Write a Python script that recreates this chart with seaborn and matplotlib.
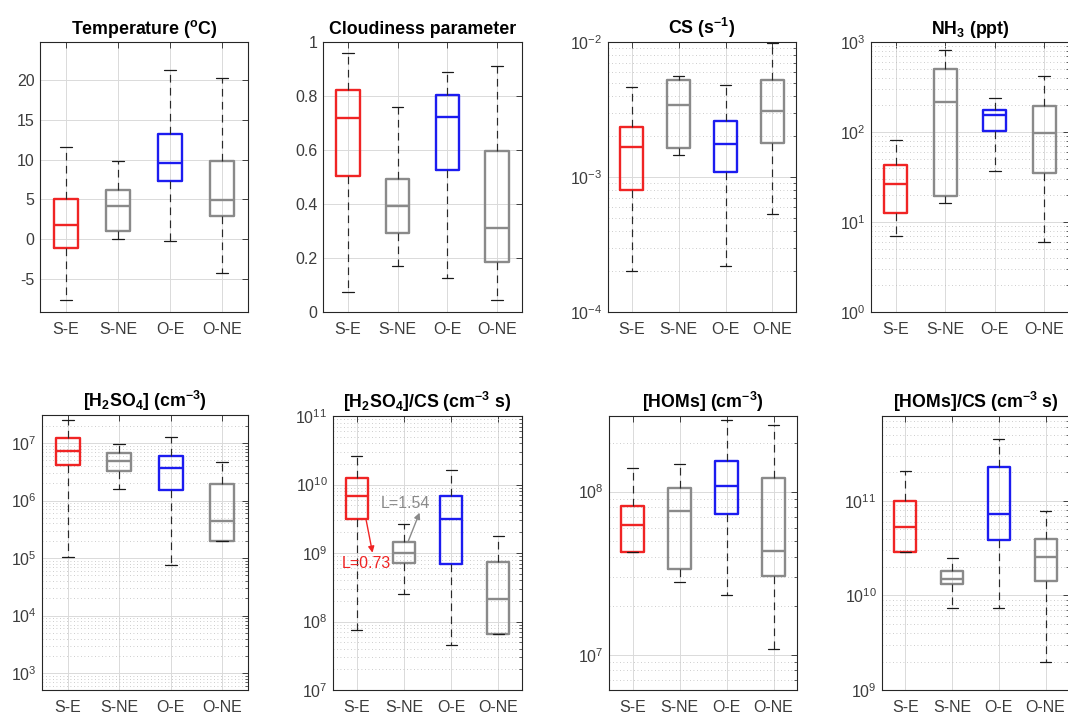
import numpy as np
import pandas as pd
import matplotlib
matplotlib.use('Agg')
import matplotlib.pyplot as plt
import matplotlib.ticker as mticker
import seaborn as sns

# ---------------- data (five-number summaries) ----------------
# each entry: [lower whisker, Q1, median, Q3, upper whisker]
sites = ['S-E', 'S-NE', 'O-E', 'O-NE']
site_colors = ['#f02424', '#8a8a8a', '#1c1cf0', '#8a8a8a']

temperature = [[-7.7, -1.15, 1.73, 5.03, 11.64],
               [0.02, 1.02, 4.2, 6.2, 9.84],
               [-0.28, 7.33, 9.6, 13.19, 21.25],
               [-4.25, 2.86, 4.9, 9.88, 20.25]]
cloudiness = [[0.074, 0.504, 0.717, 0.824, 0.959],
              [0.172, 0.293, 0.393, 0.493, 0.759],
              [0.127, 0.525, 0.722, 0.804, 0.889],
              [0.043, 0.187, 0.31, 0.597, 0.91]]
cs = [[2.02e-4, 8.0e-4, 1.67e-3, 2.33e-3, 4.63e-3],
      [1.46e-3, 1.63e-3, 3.42e-3, 5.23e-3, 5.64e-3],
      [2.19e-4, 1.08e-3, 1.75e-3, 2.58e-3, 4.81e-3],
      [5.36e-4, 1.79e-3, 3.06e-3, 5.23e-3, 9.9e-3]]
nh3 = [[7.0, 12.5, 26.4, 42.7, 80.9],
       [16.2, 19.6, 215, 498, 815],
       [37, 102, 156, 174, 238],
       [6.0, 35.2, 98.4, 196, 417]]
h2so4 = [[1.03e5, 4.1e6, 7.36e6, 1.24e7, 2.48e7],
         [1.57e6, 3.22e6, 4.87e6, 6.8e6, 9.7e6],
         [7.7e4, 1.51e6, 3.73e6, 5.95e6, 1.29e7],
         [2.01e5, 2.01e5, 4.37e5, 1.97e6, 4.6e6]]
h2so4_cs = [[7.6e7, 3.17e9, 6.8e9, 1.26e10, 2.64e10],
            [2.55e8, 7.15e8, 1.01e9, 1.46e9, 2.62e9],
            [4.49e7, 6.84e8, 3.1e9, 6.8e9, 1.61e10],
            [6.5e7, 6.5e7, 2.13e8, 7.3e8, 1.75e9]]
homs = [[4.25e7, 4.25e7, 6.25e7, 8.17e7, 1.39e8],
        [2.81e7, 3.37e7, 7.57e7, 1.06e8, 1.48e8],
        [2.32e7, 7.33e7, 1.08e8, 1.54e8, 2.74e8],
        [1.09e7, 3.03e7, 4.33e7, 1.22e8, 2.58e8]]
homs_cs = [[2.85e10, 2.85e10, 5.27e10, 1.0e11, 2.09e11],
           [7.35e9, 1.32e10, 1.51e10, 1.81e10, 2.5e10],
           [7.35e9, 3.87e10, 7.23e10, 2.29e11, 4.48e11],
           [2.0e9, 1.42e10, 2.52e10, 3.97e10, 7.84e10]]

titles = [r'Temperature ($^{\mathbf{o}}$C)',
          'Cloudiness parameter',
          r'CS (s$^{\mathbf{-1}}$)',
          r'NH$_{\mathbf{3}}$ (ppt)',
          r'[H$_{\mathbf{2}}$SO$_{\mathbf{4}}$] (cm$^{\mathbf{-3}}$)',
          r'[H$_{\mathbf{2}}$SO$_{\mathbf{4}}$]/CS (cm$^{\mathbf{-3}}$ s)',
          r'[HOMs] (cm$^{\mathbf{-3}}$)',
          r'[HOMs]/CS (cm$^{\mathbf{-3}}$ s)']

# ratio annotations in the [H2SO4]/CS panel
ann_labels = ['L=0.73', 'L=1.54']
ann_colors = ['#f02424', '#8a8a8a']
ann_text_xy = [(-0.32, 7.1e8), (0.52, 5.3e9)]
ann_arrow_from = [(0.204, 2.97e9), (1.095, 1.5e9)]
ann_arrow_to = [(0.336, 1.01e9), (1.332, 3.88e9)]

# ---------------- style ----------------
sns.set_style('white')
plt.rcParams['font.family'] = ['Liberation Sans', 'DejaVu Sans']
plt.rcParams['mathtext.fontset'] = 'custom'
plt.rcParams['mathtext.rm'] = 'Liberation Sans'
plt.rcParams['mathtext.bf'] = 'Liberation Sans:bold'
plt.rcParams['mathtext.it'] = 'Liberation Sans:italic'
plt.rcParams['mathtext.sf'] = 'Liberation Sans'
plt.rcParams['axes.unicode_minus'] = False

W, H = 1068, 715
fig = plt.figure(figsize=(W / 100, H / 100), dpi=100)

# axes boxes in pixels: left, right, top, bottom
boxes = [(40, 248, 42, 312), (323, 522, 42, 312), (608, 796, 42, 312), (871, 1069, 42, 312),
         (42, 248, 415, 690), (333, 522, 416, 690), (609, 797, 416, 690), (882, 1069, 416, 690)]

datasets = [temperature, cloudiness, cs, nh3, h2so4, h2so4_cs, homs, homs_cs]
logs = [False, False, True, True, True, True, True, True]
ylims = [(-9.15, 24.8), (0, 1), (1e-4, 1e-2), (1, 1000), (5.1e2, 3.06e7),
         (1e7, 1e11), (6.07e6, 2.91e8), (1e9, 7.9e11)]
lin_ticks = {0: [-5, 0, 5, 10, 15, 20], 1: [0, 0.2, 0.4, 0.6, 0.8, 1]}

label_color = '#3c3c3c'
axis_color = '#262626'
pal = dict(zip(sites, site_colors))
tick_fs = 11.5
title_fs = 12.8

axes = []
for i, (data, islog, yl, title, (l, r, t, b)) in enumerate(zip(datasets, logs, ylims, titles, boxes)):
    ax = fig.add_axes([l / W, 1 - b / H, (r - l) / W, (b - t) / H])
    rows = []
    for s, vals in zip(sites, data):
        for v in vals:
            rows.append({'site': s, 'value': v})
    df = pd.DataFrame(rows)
    sns.boxplot(data=df, x='site', y='value', hue='site', order=sites, hue_order=sites,
                palette=pal, saturation=1, fill=False, whis=(0, 100), width=0.47,
                linewidth=1.7, legend=False, log_scale=True if islog else None,
                showfliers=False, ax=ax,
                whiskerprops=dict(color='#2a2a2a', linestyle=(0, (6.5, 4.5)), linewidth=0.85),
                capprops=dict(color='#1a1a1a', linewidth=0.9))
    ax.set_xlim(-0.5, 3.5)
    ax.set_ylim(*yl)
    ax.set_xlabel('')
    ax.set_ylabel('')
    ax.set_axisbelow(True)
    ax.grid(True, which='major', axis='both', color='#dadada', linewidth=0.7, linestyle='-')
    if islog:
        ax.yaxis.set_major_locator(mticker.LogLocator(base=10, numticks=20))
        ax.yaxis.set_minor_locator(mticker.LogLocator(base=10, subs=np.arange(2, 10), numticks=20))
        ax.yaxis.set_minor_formatter(mticker.NullFormatter())
        ax.grid(True, which='minor', axis='y', color='#bdbdbd', linewidth=0.6, linestyle=(0, (1, 3.2)))
    else:
        ax.set_yticks(lin_ticks[i])
        ax.yaxis.set_major_formatter(mticker.FuncFormatter(lambda v, p: '%g' % v))
    ax.tick_params(which='major', direction='in', length=4, width=0.6, top=True, right=True,
                   color=axis_color, labelcolor=label_color, labelsize=tick_fs)
    ax.tick_params(axis='y', which='major', pad=4)
    ax.tick_params(axis='x', which='major', pad=7)
    ax.tick_params(which='minor', direction='in', length=2, width=0.5, top=False, right=True,
                   color=axis_color)
    for sp in ax.spines.values():
        sp.set_visible(True)
        sp.set_color(axis_color)
        sp.set_linewidth(0.8)
    ax.set_title(title, fontsize=title_fs, fontweight='bold', color='black', pad=6)
    axes.append(ax)

# annotations in [H2SO4]/CS panel
ax6 = axes[5]
for lab, col, txy, a0, a1 in zip(ann_labels, ann_colors, ann_text_xy, ann_arrow_from, ann_arrow_to):
    ax6.text(txy[0], txy[1], lab, color=col, fontsize=tick_fs, ha='left', va='center', zorder=6)
    ax6.annotate('', xy=a1, xytext=a0,
                 arrowprops=dict(arrowstyle='-|>', color=col, lw=1.0, mutation_scale=9,
                                 shrinkA=0, shrinkB=0), zorder=6)

fig.savefig('out.png', dpi=100)
